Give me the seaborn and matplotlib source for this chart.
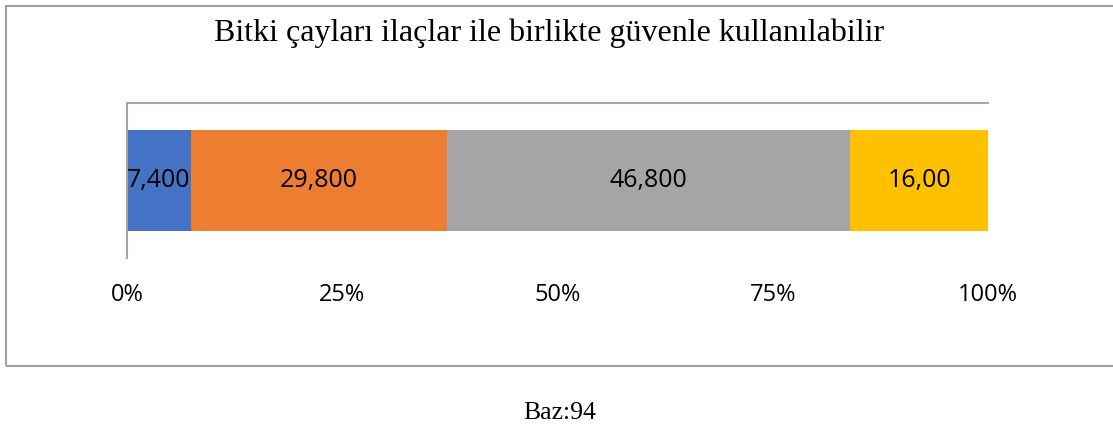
import matplotlib
matplotlib.use('Agg')
import matplotlib.pyplot as plt
import seaborn as sns
import pandas as pd
from matplotlib.patches import Rectangle

title = "Bitki çayları ilaçlar ile birlikte güvenle kullanılabilir"
row_name = ["Bitki çayları"]
categories = ["Kesinlikle katılmıyorum", "Katılmıyorum", "Katılıyorum", "Kesinlikle katılıyorum"]
values = [7.4, 29.8, 46.8, 16.0]
value_labels = ["7,400", "29,800", "46,800", "16,00"]
colors = ["#4472C4", "#ED7D31", "#A5A5A5", "#FFC000"]
ticks = [0, 25, 50, 75, 100]
tick_labels = ["0%", "25%", "50%", "75%", "100%"]
base_note = "Baz:94"

sns.set_theme(style="white")
plt.rcParams['font.family'] = ['Open Sans', 'DejaVu Sans']

W, H = 1113, 430
fig = plt.figure(figsize=(W / 100, H / 100), dpi=100)
ax = fig.add_axes([127 / W, 1 - 258 / H, 861 / W, 155 / H])

df = pd.DataFrame({"row": row_name * len(values), "cat": categories, "value": values})
df["cum"] = df["value"].cumsum()
df["center"] = df["cum"] - df["value"] / 2

for i in reversed(range(len(df))):
    sns.barplot(data=df.iloc[[i]], x="cum", y="row", color=colors[i], orient="h",
                width=0.652, saturation=1, linewidth=0, ax=ax)

for i in range(len(df)):
    ax.text(df["center"].iloc[i], 0, value_labels[i], ha="center", va="center",
            fontsize=18, color="black")

ax.set_xlim(0, 100)
ax.set_ylim(0.5, -0.5)
ax.set_xticks(ticks)
ax.set_xticklabels(tick_labels)
ax.set_yticks([])
ax.set_xlabel("")
ax.set_ylabel("")
ax.tick_params(axis="x", length=0, pad=18, labelsize=17, colors="black")
for s in ["bottom", "right"]:
    ax.spines[s].set_visible(False)
for s in ["top", "left"]:
    ax.spines[s].set_visible(True)
    ax.spines[s].set_color("#A6A6A6")
    ax.spines[s].set_linewidth(1.5)

fig.patches.append(Rectangle((6 / W, 1 - 366 / H), 1.2, 360 / H, transform=fig.transFigure,
                             fill=False, edgecolor="#A0A0A0", linewidth=1.5))

fig.text(549 / W, 1 - 33 / H, title, ha="center", va="center", fontsize=23,
         color="black", family=["Liberation Serif", "DejaVu Serif"])
fig.text(560 / W, 1 - 413 / H, base_note, ha="center", va="center", fontsize=18.5,
         color="black", family=["Liberation Serif", "DejaVu Serif"])

fig.savefig("out.png", dpi=100)
